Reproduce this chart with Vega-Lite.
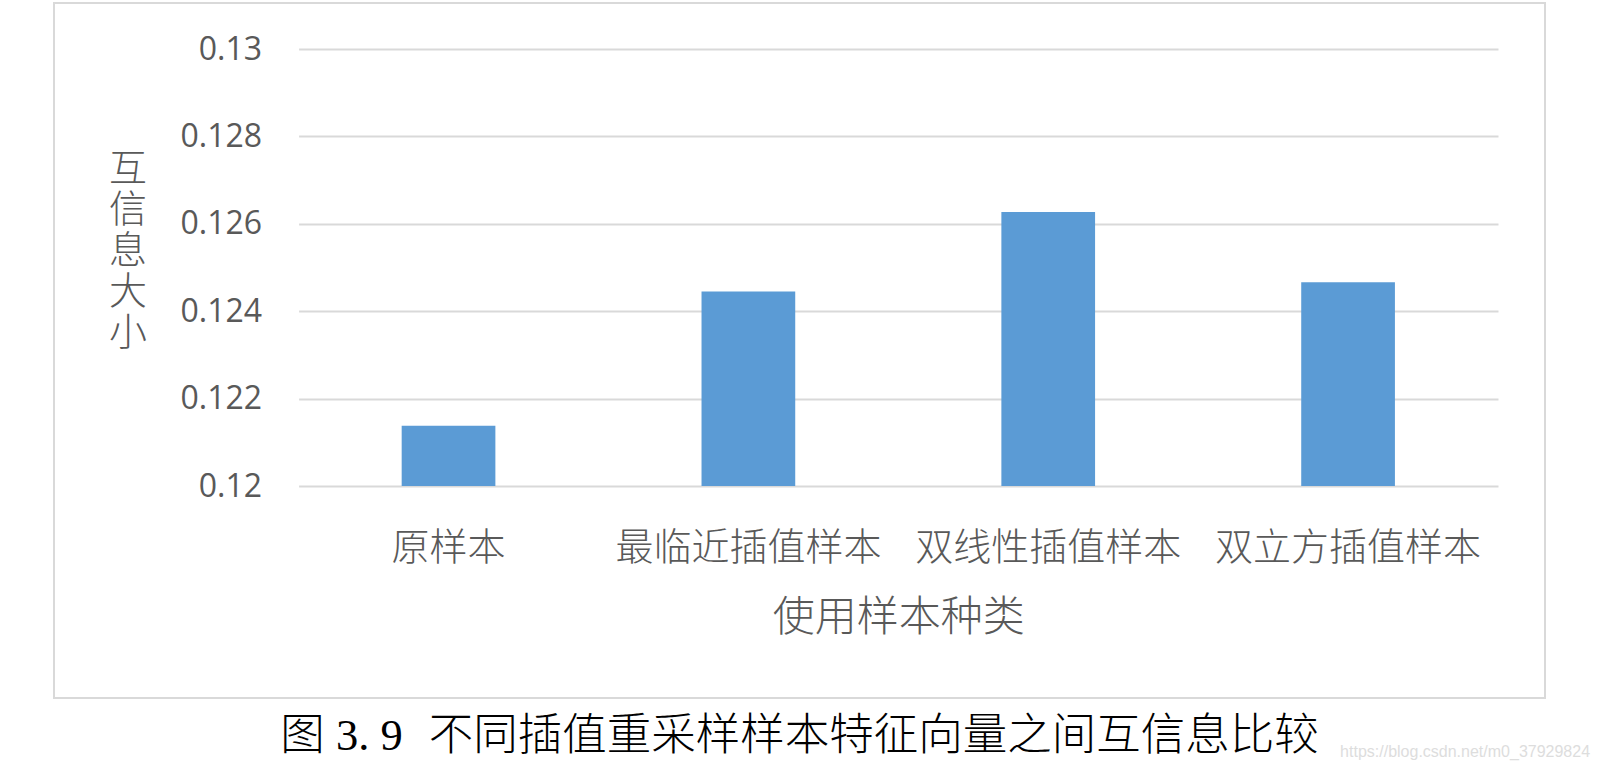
{
  "$schema": "https://vega.github.io/schema/vega-lite/v6.json",
  "width": 1491,
  "height": 695,
  "autosize": {"type": "none"},
  "padding": {"left": 54, "top": 3, "right": 53, "bottom": 72},
  "background": "white",
  "config": {"view": {"stroke": "#d9d9d9", "strokeWidth": 2}},
  "title": {
    "text": "图 3. 9\u2002\u200a不同插值重采样样本特征向量之间互信息比较",
    "orient": "bottom",
    "frame": "group",
    "anchor": "middle",
    "offset": -45,
    "baseline": "top",
    "font": "Liberation Serif, Noto Sans CJK SC",
    "fontSize": 44.5,
    "fontWeight": 300,
    "color": "#000000"
  },
  "data": {
    "values": [
      {"category": "原样本", "value": 0.12138},
      {"category": "最临近插值样本", "value": 0.12445},
      {"category": "双线性插值样本", "value": 0.12627},
      {"category": "双立方插值样本", "value": 0.12466}
    ]
  },
  "layer": [
    {
      "mark": {"type": "bar", "color": "#5b9bd5"},
      "encoding": {
        "x": {
          "field": "category",
          "type": "nominal",
          "sort": null,
          "scale": {"range": [244.6, 1444], "paddingInner": 0.6875, "paddingOuter": 0.34375},
          "axis": {
            "offset": -212,
            "domain": false,
            "ticks": false,
            "grid": false,
            "labelAngle": 0,
            "labelLimit": 600,
            "labelFont": "Noto Sans CJK SC",
            "labelFontSize": 38,
            "labelFontWeight": 300,
            "labelColor": "#595959",
            "labelBaseline": "middle",
            "labelPadding": 62,
            "title": "使用样本种类",
            "titleFont": "Noto Sans CJK SC",
            "titleFontSize": 42,
            "titleFontWeight": 300,
            "titleColor": "#595959",
            "titleBaseline": "middle",
            "titleX": 844.3,
            "titleY": 131
          }
        },
        "y": {
          "field": "value",
          "type": "quantitative",
          "scale": {"domain": [0.12, 0.13], "range": [483, 46], "zero": false, "nice": false},
          "axis": {
            "offset": -244.6,
            "values": [0.12, 0.122, 0.124, 0.126, 0.128, 0.13],
            "format": "~g",
            "domain": false,
            "ticks": false,
            "grid": true,
            "gridColor": "#d9d9d9",
            "gridWidth": 2,
            "labelFont": "Open Sans",
            "labelFontSize": 32,
            "labelColor": "#595959",
            "labelPadding": 37,
            "title": ["互", "信", "息", "大", "小"],
            "titleAngle": 0,
            "titleAlign": "center",
            "titleBaseline": "top",
            "titleX": -171,
            "titleY": 147,
            "titleFont": "Noto Sans CJK SC",
            "titleFontSize": 38,
            "titleFontWeight": 300,
            "titleLineHeight": 41,
            "titleColor": "#595959"
          }
        },
        "y2": {"datum": 0.12}
      }
    },
    {
      "data": {"values": [{"note": "https://blog.csdn.net/m0_37929824"}]},
      "mark": {
        "type": "text",
        "align": "right",
        "baseline": "middle",
        "dx": 242,
        "dy": 2,
        "font": "Liberation Sans",
        "fontSize": 16,
        "color": "#dddddd"
      },
      "encoding": {
        "text": {"field": "note"},
        "x": {"datum": "双立方插值样本"},
        "y": {"datum": 0.11397}
      }
    }
  ]
}
